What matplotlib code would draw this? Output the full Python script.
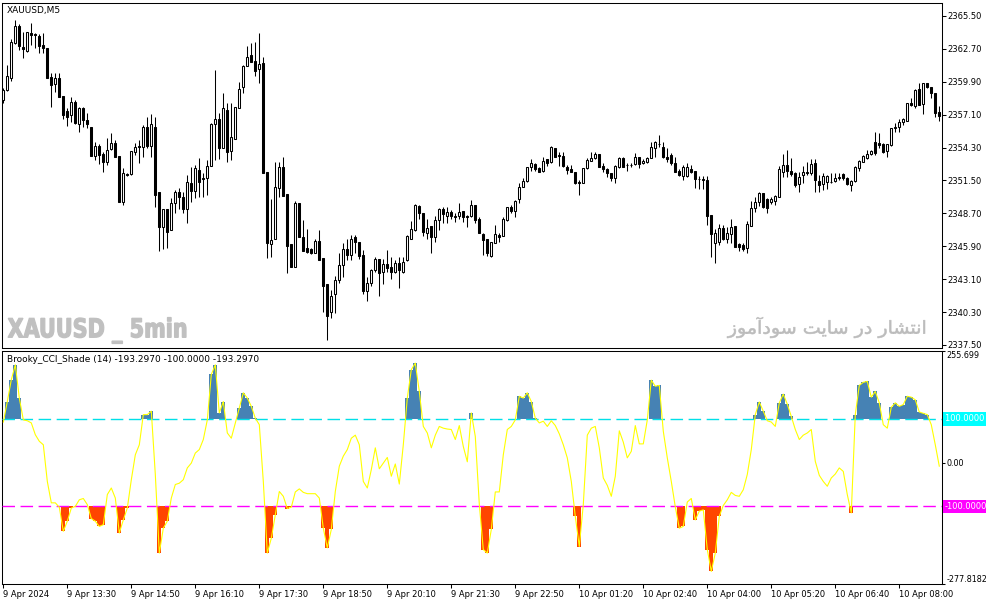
import numpy as np
import matplotlib
matplotlib.use('Agg')
import matplotlib.pyplot as plt
from matplotlib.textpath import TextPath
from matplotlib.patches import PathPatch
from matplotlib.font_manager import FontProperties
from matplotlib.transforms import Affine2D, blended_transform_factory

plt.rcParams['font.family'] = ['DejaVu Sans']

# XAUUSD M5 candles, 9 Apr 12:10 -> 10 Apr 08:40 (235 bars)
opens = [
    2358.35, 2359.20, 2360.25, 2363.17, 2364.65, 2362.83, 2362.55, 2364.02, 2363.97, 2363.80,
    2363.03, 2362.75, 2360.28, 2359.68, 2360.19, 2358.69, 2357.41, 2357.07, 2358.21, 2356.31,
    2357.64, 2356.65, 2356.08, 2353.61, 2354.46, 2353.72, 2353.10, 2354.15, 2354.66, 2353.58,
    2349.70, 2352.05, 2352.05, 2353.95, 2354.46, 2354.38, 2356.08, 2354.46, 2356.08, 2350.49,
    2347.57, 2349.07, 2347.29, 2349.55, 2350.49, 2350.12, 2349.07, 2351.31, 2350.63, 2352.39,
    2351.74, 2351.74, 2352.76, 2356.28, 2356.73, 2354.29, 2357.50, 2354.01, 2355.00, 2357.64,
    2359.43, 2361.27, 2362.18, 2361.67, 2360.96, 2361.53, 2352.19, 2346.06, 2346.49, 2350.83,
    2352.67, 2350.35, 2346.09, 2344.16, 2349.55, 2346.66, 2345.72, 2345.64, 2345.30, 2346.38,
    2344.93, 2342.66, 2340.33, 2341.81, 2343.03, 2344.30, 2345.64, 2345.16, 2346.66, 2346.24,
    2345.16, 2342.12, 2342.80, 2343.88, 2344.79, 2343.74, 2344.36, 2344.11, 2343.74, 2344.45,
    2343.74, 2344.73, 2346.52, 2347.29, 2349.33, 2348.70, 2347.00, 2347.62, 2346.72, 2348.14,
    2349.07, 2348.50, 2348.79, 2348.48, 2348.50, 2348.90, 2348.48, 2348.48, 2349.41, 2348.22,
    2346.92, 2346.52, 2345.07, 2346.21, 2346.86, 2346.80, 2348.14, 2349.21, 2348.93, 2349.92,
    2350.97, 2351.48, 2352.67, 2352.90, 2352.59, 2352.33, 2353.33, 2353.04, 2354.24, 2353.67,
    2353.58, 2352.67, 2352.45, 2352.19, 2351.40, 2351.31, 2352.53, 2353.19, 2353.38, 2353.75,
    2352.73, 2352.48, 2352.11, 2351.74, 2352.67, 2353.44, 2352.84, 2352.80, 2352.87, 2353.47,
    2352.96, 2353.10, 2353.44, 2354.24, 2354.58, 2354.38, 2353.53, 2353.67, 2353.02, 2352.31,
    2351.88, 2351.91, 2352.48, 2352.31, 2351.63, 2351.60, 2351.54, 2348.56, 2346.15, 2346.29,
    2347.43, 2346.49, 2346.92, 2347.65, 2346.06, 2346.01, 2345.72, 2347.65, 2349.18, 2349.64,
    2350.41, 2349.89, 2349.64, 2349.78, 2350.12, 2352.25, 2352.82, 2352.31, 2352.11, 2351.17,
    2351.97, 2352.19, 2352.16, 2352.96, 2351.48, 2351.17, 2351.40, 2351.40, 2351.46, 2351.68,
    2352.05, 2351.68, 2351.11, 2351.46, 2352.59, 2353.10, 2353.44, 2353.72, 2354.80, 2354.72,
    2354.58, 2354.01, 2354.52, 2355.94, 2356.02, 2356.51, 2356.59, 2358.12, 2357.84, 2359.26,
    2357.98, 2359.77, 2359.43, 2358.92, 2357.30,
]
highs = [
    2359.34, 2361.33, 2363.51, 2365.16, 2364.82, 2364.16, 2364.16, 2364.87, 2364.02, 2363.97,
    2364.02, 2362.75, 2360.62, 2360.62, 2360.62, 2358.69, 2357.64, 2358.63, 2358.35, 2357.78,
    2357.73, 2357.21, 2356.08, 2354.80, 2354.60, 2353.95, 2355.09, 2355.51, 2354.94, 2353.58,
    2352.53, 2352.11, 2354.01, 2354.66, 2354.94, 2356.22, 2356.87, 2357.13, 2356.93, 2350.49,
    2349.07, 2349.07, 2349.98, 2350.69, 2350.83, 2350.55, 2351.97, 2352.67, 2352.82, 2353.38,
    2352.11, 2353.24, 2356.42, 2360.90, 2357.27, 2358.97, 2358.07, 2358.07, 2357.73, 2359.91,
    2361.33, 2362.95, 2363.17, 2363.31, 2364.08, 2362.04, 2352.19, 2349.92, 2353.10, 2353.10,
    2353.53, 2350.35, 2346.09, 2349.75, 2349.55, 2348.14, 2347.34, 2345.72, 2346.49, 2347.29,
    2344.93, 2342.66, 2342.18, 2343.37, 2345.30, 2346.15, 2346.49, 2346.86, 2346.86, 2346.24,
    2345.58, 2343.31, 2343.94, 2345.02, 2344.79, 2344.79, 2345.58, 2345.02, 2344.73, 2345.02,
    2345.02, 2346.86, 2348.08, 2349.50, 2349.41, 2348.70, 2348.22, 2347.62, 2348.48, 2349.13,
    2349.21, 2349.27, 2348.99, 2348.70, 2349.61, 2348.90, 2348.56, 2349.84, 2349.41, 2348.42,
    2347.00, 2346.52, 2346.24, 2347.71, 2347.00, 2348.42, 2349.27, 2349.41, 2349.84, 2351.31,
    2351.74, 2352.67, 2353.33, 2352.96, 2352.67, 2353.53, 2353.33, 2354.46, 2354.24, 2353.95,
    2353.95, 2352.82, 2352.82, 2352.19, 2351.54, 2352.59, 2353.38, 2353.95, 2353.95, 2353.75,
    2352.96, 2352.53, 2352.16, 2352.82, 2353.47, 2353.47, 2352.96, 2353.02, 2353.87, 2353.53,
    2353.30, 2353.53, 2354.80, 2354.86, 2355.37, 2354.75, 2354.24, 2353.87, 2353.53, 2352.45,
    2352.82, 2352.96, 2352.82, 2352.31, 2351.91, 2351.91, 2351.91, 2348.56, 2347.37, 2347.77,
    2347.71, 2347.57, 2348.22, 2347.65, 2346.15, 2346.15, 2348.08, 2349.78, 2350.07, 2350.49,
    2350.41, 2349.98, 2350.12, 2350.26, 2352.76, 2353.75, 2354.09, 2353.38, 2352.19, 2352.19,
    2352.76, 2353.10, 2353.30, 2353.33, 2351.97, 2352.11, 2351.97, 2352.16, 2352.11, 2352.11,
    2352.16, 2351.82, 2351.54, 2352.76, 2353.24, 2353.67, 2354.09, 2354.09, 2355.65, 2355.51,
    2354.66, 2354.60, 2356.00, 2356.36, 2356.73, 2356.79, 2358.12, 2358.55, 2359.26, 2359.77,
    2359.77, 2359.77, 2359.43, 2358.92, 2357.84,
]
lows = [
    2358.12, 2359.14, 2359.97, 2363.12, 2362.60, 2361.95, 2362.46, 2363.03, 2362.80, 2362.38,
    2362.38, 2360.25, 2357.78, 2359.06, 2358.63, 2356.70, 2356.14, 2356.51, 2356.31, 2355.65,
    2356.08, 2355.94, 2353.61, 2353.24, 2352.87, 2352.25, 2352.82, 2354.09, 2353.53, 2349.70,
    2349.41, 2351.91, 2351.97, 2353.67, 2352.96, 2353.53, 2354.24, 2353.53, 2349.27, 2345.53,
    2345.64, 2345.72, 2347.29, 2348.70, 2349.07, 2348.70, 2347.85, 2349.70, 2349.98, 2350.12,
    2350.12, 2350.26, 2352.76, 2353.24, 2353.30, 2354.29, 2353.10, 2353.24, 2355.00, 2357.64,
    2358.92, 2361.27, 2361.61, 2360.39, 2359.77, 2352.11, 2344.87, 2345.02, 2346.49, 2350.12,
    2350.21, 2343.60, 2344.11, 2344.11, 2346.66, 2345.53, 2345.36, 2345.24, 2345.30, 2344.73,
    2340.28, 2337.92, 2339.77, 2340.19, 2342.75, 2343.26, 2344.73, 2344.73, 2345.30, 2344.79,
    2341.84, 2341.24, 2342.55, 2343.74, 2341.70, 2342.69, 2343.74, 2343.11, 2343.65, 2342.32,
    2343.65, 2344.67, 2346.52, 2347.23, 2348.22, 2346.80, 2346.49, 2345.30, 2346.29, 2347.29,
    2347.85, 2347.85, 2348.22, 2347.99, 2348.22, 2347.94, 2347.57, 2348.42, 2347.91, 2347.00,
    2345.16, 2345.07, 2345.02, 2346.15, 2346.24, 2346.80, 2348.08, 2348.70, 2348.36, 2349.55,
    2350.97, 2351.40, 2352.33, 2352.33, 2352.19, 2352.25, 2352.76, 2352.96, 2353.53, 2352.76,
    2352.67, 2352.02, 2352.19, 2351.20, 2350.26, 2351.31, 2352.48, 2353.16, 2353.30, 2352.62,
    2352.25, 2351.82, 2351.48, 2351.31, 2352.59, 2352.67, 2352.33, 2352.67, 2352.82, 2352.59,
    2352.90, 2352.96, 2353.38, 2353.53, 2354.38, 2353.38, 2353.10, 2352.82, 2352.25, 2351.91,
    2351.54, 2351.82, 2352.11, 2350.89, 2350.77, 2350.75, 2347.71, 2345.02, 2344.45, 2346.01,
    2346.43, 2346.15, 2346.15, 2345.87, 2345.53, 2345.53, 2345.36, 2347.65, 2348.85, 2349.36,
    2349.13, 2348.70, 2349.50, 2349.41, 2350.07, 2351.82, 2351.82, 2351.88, 2350.92, 2350.55,
    2351.26, 2351.97, 2351.97, 2350.49, 2350.55, 2350.69, 2350.75, 2351.26, 2351.40, 2351.54,
    2351.54, 2351.11, 2350.63, 2351.40, 2352.33, 2353.04, 2353.33, 2353.67, 2353.67, 2354.24,
    2353.81, 2353.53, 2354.46, 2355.65, 2355.65, 2356.22, 2356.59, 2357.84, 2357.64, 2357.92,
    2357.13, 2359.34, 2358.49, 2356.93, 2356.59,
]
closes = [
    2359.20, 2360.39, 2363.26, 2364.65, 2362.97, 2362.66, 2364.16, 2363.91, 2363.91, 2362.97,
    2362.75, 2360.25, 2359.60, 2360.19, 2358.63, 2357.07, 2356.93, 2358.15, 2356.36, 2357.64,
    2356.65, 2356.28, 2353.61, 2354.46, 2353.67, 2353.10, 2354.09, 2354.66, 2353.53, 2349.70,
    2352.11, 2351.94, 2354.01, 2354.38, 2354.38, 2356.08, 2354.46, 2356.31, 2350.26, 2347.57,
    2349.07, 2347.14, 2349.55, 2350.49, 2350.12, 2349.07, 2351.34, 2350.63, 2352.59, 2351.40,
    2351.65, 2352.73, 2356.31, 2356.73, 2354.29, 2357.64, 2353.89, 2355.23, 2357.73, 2359.26,
    2361.24, 2362.04, 2361.61, 2360.82, 2361.38, 2352.16, 2346.15, 2346.43, 2350.92, 2352.67,
    2350.21, 2345.95, 2344.11, 2349.55, 2346.66, 2345.53, 2345.44, 2345.30, 2346.38, 2344.73,
    2342.55, 2340.00, 2341.70, 2343.03, 2344.30, 2345.64, 2345.16, 2346.49, 2346.29, 2345.07,
    2342.12, 2342.75, 2343.88, 2344.79, 2343.65, 2344.36, 2344.02, 2343.68, 2344.45, 2343.88,
    2344.59, 2346.77, 2347.34, 2349.41, 2348.70, 2347.09, 2347.43, 2346.72, 2348.14, 2349.04,
    2348.62, 2348.79, 2348.50, 2348.36, 2348.79, 2348.36, 2348.36, 2349.41, 2348.14, 2347.00,
    2346.43, 2345.30, 2346.24, 2346.92, 2346.72, 2348.22, 2349.21, 2348.93, 2349.75, 2350.92,
    2351.46, 2352.62, 2352.96, 2352.48, 2352.25, 2353.19, 2352.96, 2354.38, 2353.53, 2353.58,
    2352.76, 2352.39, 2352.25, 2351.31, 2351.31, 2352.53, 2353.24, 2353.38, 2353.75, 2352.67,
    2352.45, 2352.16, 2351.74, 2352.76, 2353.44, 2352.67, 2352.80, 2352.84, 2353.47, 2352.90,
    2353.16, 2353.44, 2354.38, 2354.75, 2354.63, 2353.47, 2353.33, 2352.96, 2352.25, 2351.97,
    2352.67, 2352.67, 2352.19, 2351.62, 2351.60, 2351.57, 2348.50, 2346.92, 2347.00, 2347.43,
    2346.49, 2347.00, 2347.57, 2345.87, 2345.87, 2345.64, 2347.77, 2349.13, 2349.70, 2350.46,
    2349.27, 2349.13, 2349.89, 2350.18, 2352.48, 2352.82, 2352.33, 2352.02, 2351.11, 2351.82,
    2352.19, 2352.11, 2352.90, 2351.54, 2351.11, 2351.88, 2351.88, 2351.34, 2351.68, 2351.82,
    2351.68, 2351.17, 2351.46, 2352.67, 2353.16, 2353.61, 2353.72, 2354.01, 2353.81, 2354.52,
    2353.95, 2354.58, 2355.94, 2356.08, 2356.51, 2356.73, 2358.07, 2357.95, 2359.20, 2357.92,
    2359.77, 2359.43, 2358.92, 2357.27, 2357.02,
]

# Brooky_CCI_Shade (14) values per bar
cci = [
    93, 140, 190, 224, 148, 98, 96, 91, 64, 49,
    41, -43, -92, -92, -102, -157, -134, -104, -100, -85,
    -82, -96, -128, -134, -146, -142, -73, -58, -81, -161,
    -131, -104, -39, 18, 41, 110, 110, 118, -27, -207,
    -150, -134, -81, -50, -47, -39, -12, -1, 22, 30,
    53, 98, 202, 224, 114, 140, 68, 56, 91, 125,
    160, 148, 129, 102, 87, -43, -207, -173, -119, -66,
    -77, -105, -102, -67, -60, -68, -71, -71, -71, -81,
    -150, -195, -153, -66, -8, 15, 30, 56, 63, 41,
    -43, -58, -16, 34, -14, -1, 12, -31, -3, -49,
    41, 148, 213, 228, 163, 83, 68, 34, 63, 83,
    79, 77, 76, 53, 85, 37, 2, 114, 60, -95,
    -199, -207, -153, -67, -67, 18, 76, 83, 98, 152,
    148, 160, 140, 102, 91, 95, 83, 96, 85, 66,
    41, 11, -43, -123, -192, -96, 63, 79, 83, 34,
    -35, -52, -77, -31, 73, 47, 11, 26, 85, 43,
    43, 98, 189, 175, 177, 72, 11, -43, -101, -150,
    -146, -90, -82, -131, -111, -108, -199, -249, -207, -123,
    -98, -85, -68, -75, -77, -62, -27, 30, 110, 139,
    118, 96, 93, 83, 137, 157, 134, 106, 76, 53,
    63, 68, 76, 3, -29, -43, -54, -35, -26, -12,
    -20, -73, -115, 110, 177, 184, 186, 150, 163, 137,
    87, 79, 127, 137, 129, 133, 152, 150, 144, 116,
    113, 110, 87, 41, -8,
]

price_ticks = [2337.50, 2340.30, 2343.10, 2345.90, 2348.70, 2351.50,
               2354.30, 2357.10, 2359.90, 2362.70, 2365.50]
time_labels = ['9 Apr 2024', '9 Apr 13:30', '9 Apr 14:50', '9 Apr 16:10',
               '9 Apr 17:30', '9 Apr 18:50', '9 Apr 20:10', '9 Apr 21:30',
               '9 Apr 22:50', '10 Apr 01:20', '10 Apr 02:40', '10 Apr 04:00',
               '10 Apr 05:20', '10 Apr 06:40', '10 Apr 08:00']
cci_hi, cci_lo = 255.699, -277.8182
watermark_left = 'XAUUSD _ 5min'
watermark_right = 'انتشار در سایت سودآموز'

# ---- arabic presentation forms (matplotlib does no shaping) ----
FORMS = {
    'ا': ('\ufe8d', '\ufe8e', None, None),
    'آ': ('\ufe81', '\ufe82', None, None),
    'ن': ('\ufee5', '\ufee6', '\ufee7', '\ufee8'),
    'ت': ('\ufe95', '\ufe96', '\ufe97', '\ufe98'),
    'ش': ('\ufeb5', '\ufeb6', '\ufeb7', '\ufeb8'),
    'ر': ('\ufead', '\ufeae', None, None),
    'د': ('\ufea9', '\ufeaa', None, None),
    'س': ('\ufeb1', '\ufeb2', '\ufeb3', '\ufeb4'),
    'ی': ('\ufbfc', '\ufbfd', '\ufbfe', '\ufbff'),
    'و': ('\ufeed', '\ufeee', None, None),
    'م': ('\ufee1', '\ufee2', '\ufee3', '\ufee4'),
    'ز': ('\ufeaf', '\ufeb0', None, None),
}


def shape(text):
    out = []
    for k, ch in enumerate(text):
        if ch not in FORMS:
            out.append(ch)
            continue
        prev = text[k - 1] if k > 0 else ' '
        nxt = text[k + 1] if k + 1 < len(text) else ' '
        jp = prev in FORMS and FORMS[prev][2] is not None
        jn = FORMS[ch][2] is not None and nxt in FORMS
        iso, fin, ini, med = FORMS[ch]
        out.append(med if (jp and jn) else fin if jp else ini if jn else iso)
    return ''.join(reversed(out))


W, H = 987, 605
fig = plt.figure(figsize=(W / 100, H / 100), dpi=100)
fig.patch.set_facecolor('white')


def px_axes(l, t, r, b):
    return fig.add_axes([l / W, 1 - b / H, (r - l) / W, (b - t) / H])


ax = px_axes(2, 3, 942, 348)
ax2 = px_axes(2, 351, 942, 584)

o = np.array(opens)
hi = np.array(highs)
lo = np.array(lows)
c = np.array(closes)
cc = np.array(cci, dtype=float)
x = np.arange(len(c))

# candles
ax.vlines(x, lo, hi, color='black', lw=0.75, zorder=2)
up = c >= o
ax.bar(x, np.maximum(np.abs(c - o), 0.02), bottom=np.minimum(o, c), width=0.5,
       color=np.where(up, 'white', 'black'), edgecolor='black', lw=0.75, zorder=3)
ax.set_xlim(-0.33, 234.68)
ax.set_ylim(2337.24, 2366.60)
ax.set_xticks([])
ax.yaxis.tick_right()
ax.set_yticks(price_ticks)
ax.set_yticklabels([f'{v:.2f}' for v in price_ticks])
ax.tick_params(axis='y', length=3, width=0.75, pad=1, labelsize=6)

# CCI panel
pos = cc > 100
neg = cc < -100
ax2.bar(x[pos], cc[pos] - 100, bottom=100, width=1.0, color='#4682b4', lw=0, zorder=2)
ax2.bar(x[neg], cc[neg] + 100, bottom=-100, width=1.0, color='#ff4500', lw=0, zorder=2)
ax2.axhline(100, color='#00e0e8', lw=1.0, dashes=(9, 4), zorder=3)
ax2.axhline(-100, color='#ff00ff', lw=1.0, dashes=(9, 4), zorder=3)
ax2.plot(x, cc, color='#ffff00', lw=0.8, zorder=4)
ax2.set_xlim(-0.33, 234.68)
ax2.set_ylim(cci_lo, cci_hi)
ax2.yaxis.tick_right()
ax2.set_yticks([cci_hi, 0, cci_lo])
ax2.set_yticklabels(['255.699', '0.00', '-277.8182'])
yl = ax2.get_yticklabels()
yl[0].set_va('top')
yl[2].set_va('bottom')
ax2.tick_params(axis='y', length=2, width=0.75, pad=1, labelsize=5.8)
ax2.set_xticks(np.arange(0, len(c), 16)[:len(time_labels)])
ax2.set_xticklabels(time_labels, ha='left')
ax2.tick_params(axis='x', length=3, width=0.75, pad=1, labelsize=6)

tr = blended_transform_factory(ax2.transAxes, ax2.transData)
ax2.text(1.003, 100, '100.0000 ', transform=tr, ha='left', va='center', fontsize=6,
         color='white', bbox=dict(boxstyle='square,pad=0.25', fc='#00ffff', ec='none'))
ax2.text(1.003, -100, '-100.0000', transform=tr, ha='left', va='center', fontsize=6,
         color='white', bbox=dict(boxstyle='square,pad=0.25', fc='#ff00ff', ec='none'))

for a in (ax, ax2):
    for s in a.spines.values():
        s.set_linewidth(0.75)
        s.set_color('black')

fig.text(7 / W, 1 - 11 / H, 'XAUUSD,M5', fontsize=6.5, va='center', ha='left')
fig.text(7 / W, 1 - 359 / H, 'Brooky_CCI_Shade (14) -193.2970 -100.0000 -193.2970',
         fontsize=6.5, va='center', ha='left')


def stamp(text, prop, x0, x1, top, bottom, color, lw=0):
    tp = TextPath((0, 0), text, size=50, prop=prop)
    ext = tp.get_extents()
    t = (Affine2D().translate(-ext.x0, -ext.y0)
         .scale((x1 - x0) / ext.width, (bottom - top) / ext.height)
         .translate(x0, H - bottom))
    fig.add_artist(PathPatch(tp, transform=t, fc=color, ec=color if lw else 'none',
                             lw=lw, zorder=1))


stamp(watermark_left, FontProperties(family='DejaVu Sans', weight='bold', stretch='condensed'),
      8, 186, 317.5, 343.5, '#c0c0c0', lw=0.9)
stamp(shape(watermark_right), FontProperties(family='DejaVu Sans'),
      727, 925, 317, 338, '#bcbcbc', lw=0.4)

fig.savefig('out.png', dpi=100, facecolor='white')
